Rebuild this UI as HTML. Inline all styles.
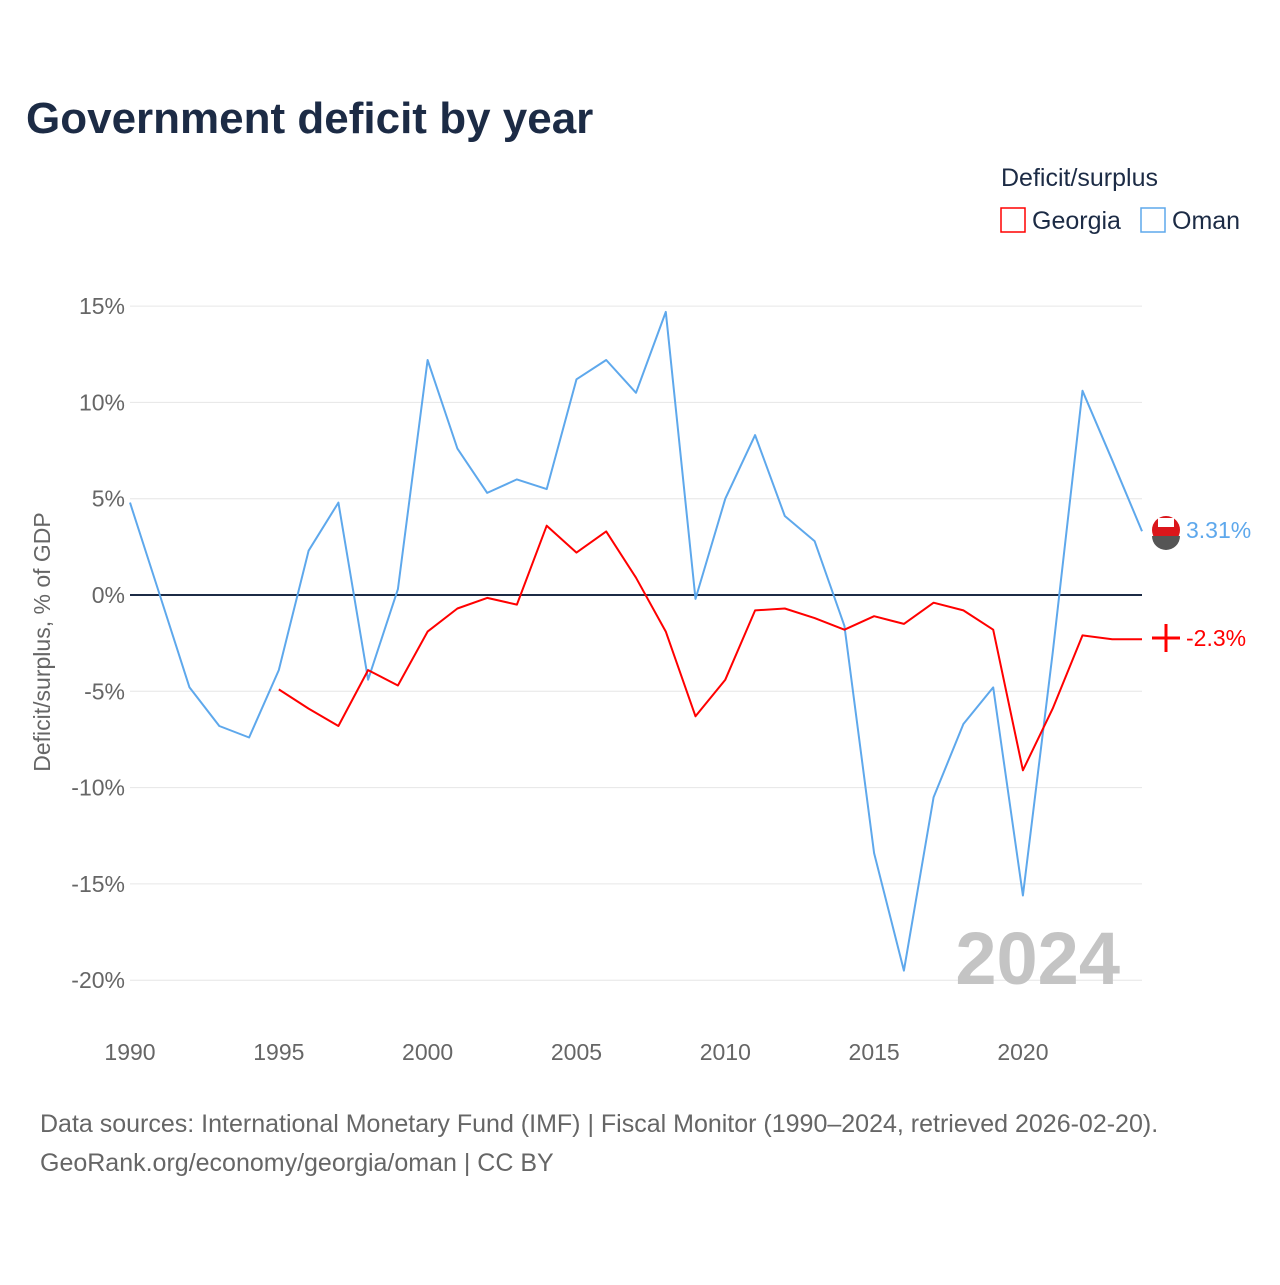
<!DOCTYPE html>
<html><head><meta charset="utf-8"><style>
body{margin:0;background:#fff;font-family:"Liberation Sans",sans-serif;}
</style></head><body>
<svg id="chart" width="1280" height="1280" xmlns="http://www.w3.org/2000/svg" font-family="Liberation Sans, sans-serif">
<text x="26" y="133" font-size="44" font-weight="bold" fill="#1c2b45">Government deficit by year</text>
<text x="1001" y="186" font-size="25" fill="#1c2b45">Deficit/surplus</text>
<rect x="1001" y="208" width="24" height="24" fill="none" stroke="#ff0000" stroke-width="1.5"/>
<text x="1032" y="229" font-size="25" fill="#1c2b45">Georgia</text>
<rect x="1141" y="208" width="24" height="24" fill="none" stroke="#5ea8ec" stroke-width="1.5"/>
<text x="1172" y="229" font-size="25" fill="#1c2b45">Oman</text>
<g id="grid"></g>
<text transform="translate(50,642) rotate(-90)" text-anchor="middle" font-size="23" fill="#666">Deficit/surplus, % of GDP</text>
<text x="1120" y="984" text-anchor="end" font-size="74" font-weight="bold" fill="#c4c4c4">2024</text>
<g id="series"></g>
<circle cx="1166" cy="530" r="14" fill="#db161b"/>
<rect x="1158" y="518" width="16" height="9" fill="#fff"/>
<path d="M1154,536 L1180,536 A14,14 0 0 1 1152,536 Z" fill="#555"/>
<g stroke="#ff0000" stroke-width="3">
<line x1="1152" y1="638" x2="1180" y2="638"/><line x1="1166" y1="624" x2="1166" y2="652"/>
</g>
<text x="1186" y="538" font-size="23" fill="#5ea8ec">3.31%</text>
<text x="1186" y="646" font-size="23" fill="#ff0000">-2.3%</text>
<text x="40" y="1132" font-size="25" fill="#666">Data sources: International Monetary Fund (IMF) | Fiscal Monitor (1990–2024, retrieved 2026-02-20).</text>
<text x="40" y="1171" font-size="25" fill="#666">GeoRank.org/economy/georgia/oman | CC BY</text>
</svg>
<script>
const years = [];
for (let y = 1990; y <= 2024; y++) years.push(y);
const omanValues = [4.8,0,-4.8,-6.8,-7.4,-3.9,2.3,4.8,-4.4,0.3,12.2,7.6,5.3,6.0,5.5,11.2,12.2,10.5,14.7,-0.2,5.0,8.3,4.1,2.8,-1.6,-13.4,-19.5,-10.5,-6.7,-4.8,-15.6,-3.0,10.6,7.0,3.31];
const georgiaValues = [null,null,null,null,null,-4.9,-5.9,-6.8,-3.9,-4.7,-1.9,-0.7,-0.15,-0.5,3.6,2.2,3.3,0.9,-1.9,-6.3,-4.4,-0.8,-0.7,-1.2,-1.8,-1.1,-1.5,-0.4,-0.8,-1.8,-9.1,-5.9,-2.1,-2.3,-2.3];
const yTicks = [15,10,5,0,-5,-10,-15,-20];
const xTicks = [1990,1995,2000,2005,2010,2015,2020];
const NS = "http://www.w3.org/2000/svg";
const xS = y => 130 + (y - 1990) * (1142 - 130) / 34;
const yS = v => 595 - v * 19.26;
const grid = document.getElementById('grid');
function mk(tag, attrs, parent){const e=document.createElementNS(NS,tag);for(const k in attrs)e.setAttribute(k,attrs[k]);parent.appendChild(e);return e;}
yTicks.forEach(t=>{
  const l = mk('line',{x1:130,x2:1142,y1:yS(t),y2:yS(t),stroke:t===0?'#1c2b45':'#e6e6e6','stroke-width':t===0?2:1},grid);
  
  
  const tx = mk('text',{x:125,y:yS(t)+8,'text-anchor':'end','font-size':23,fill:'#666'},grid);
  tx.textContent = t + '%';
  
  
});
xTicks.forEach(t=>{
  const tx = mk('text',{x:xS(t),y:1060,'text-anchor':'middle','font-size':23,fill:'#666'},grid);
  tx.textContent = t;
  
  
});
const series = document.getElementById('series');
function line(vals, color, name){
  let d='';let started=false;
  vals.forEach((v,i)=>{ if(v===null) return; d += (started?'L':'M') + xS(years[i]).toFixed(1) + ',' + yS(v).toFixed(1); started=true; });
  const p = mk('path',{d:d,fill:'none',stroke:color,'stroke-width':2,'stroke-linejoin':'round'},series);
  
  
}
line(omanValues,'#5ea8ec','oman-line');
line(georgiaValues,'#ff0000','georgia-line');
</script>
</body></html>
